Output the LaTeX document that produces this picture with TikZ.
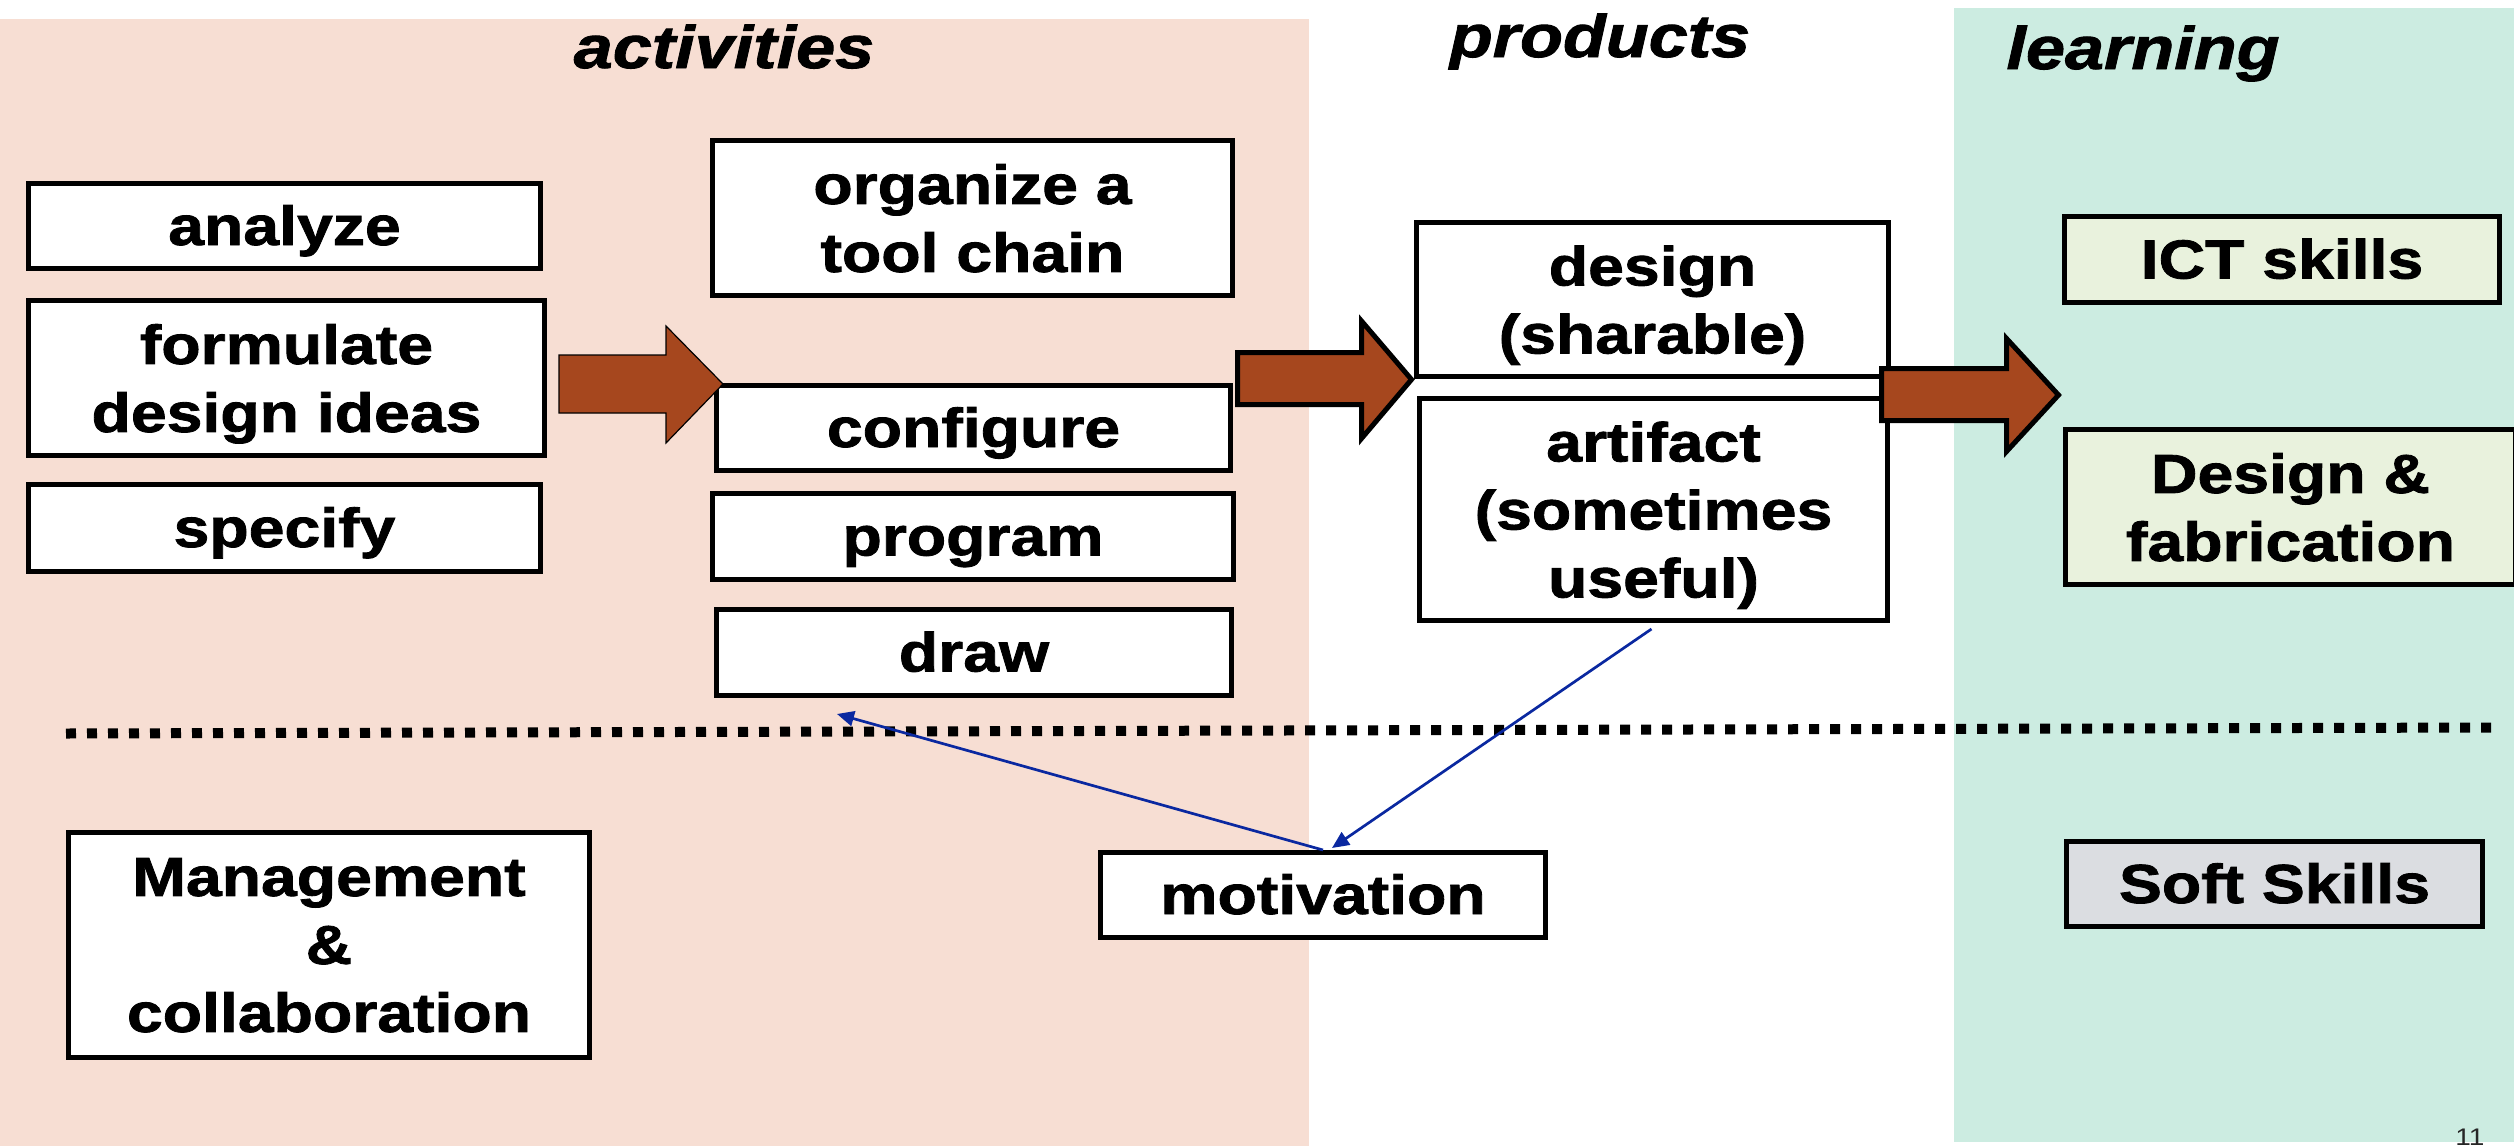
\documentclass[tikz,border=0pt]{standalone}
\usepackage{fontspec}
\setmainfont{Liberation Sans}
\newfontfamily\boxfont{Liberation Sans}[FakeStretch=1.17]
\newfontfamily\heavyfont{Liberation Sans}[FakeStretch=1.17,FakeBold=1.5]
\usetikzlibrary{calc,arrows.meta}

\definecolor{pinkbg}{RGB}{247,222,211}
\definecolor{greenbg}{RGB}{204,236,225}
\definecolor{ictfill}{RGB}{233,242,221}
\definecolor{softfill}{RGB}{219,221,225}
\definecolor{arrowbrown}{RGB}{166,71,30}
\definecolor{linkblue}{RGB}{10,40,160}

\tikzset{
  box/.style={draw=black, line width=5pt, fill=white, inner sep=0pt,
    align=center, text depth=0pt,
    font=\heavyfont\bfseries\fontsize{55}{68}\selectfont},
  oneline/.style={text height=38pt, text depth=0pt},
  coltitle/.style={anchor=base, inner sep=0pt,
    font=\heavyfont\bfseries\itshape\fontsize{60}{72}\selectfont},
  bigarrow/.style={fill=arrowbrown, draw=black, line width=5pt, line join=miter},
  thinarrow/.style={fill=arrowbrown, draw=black, line width=1.2pt, line join=miter},
  link/.style={draw=linkblue, line width=2.7pt, -{Triangle[length=17pt,width=15pt]}},
  separator/.style={line width=10pt, dash pattern=on 10pt off 11pt}
}

\begin{document}
\begin{tikzpicture}[x=1pt,y=-1pt]
\useasboundingbox (0,0) rectangle (2514,1146);
\clip (0,0) rectangle (2514,1146);

% column backgrounds
\fill[pinkbg] (0,19) rectangle (1309,1146);
\fill[greenbg] (1954,8) rectangle (2514,1142);

% column headings
\node[coltitle] (hact) at (724,68) {activities};
\node[coltitle] (hprod) at (1600,57) {products};
\node[coltitle] (hlearn) at (2143,69) {learning};

% activities
\node[box, oneline, minimum width=512, minimum height=85] (analyze) at (284.5,226) {analyze};
\node[box, minimum width=516, minimum height=155] (formulate) at (286.5,378) {formulate\\design ideas};
\node[box, oneline, minimum width=512, minimum height=87] (specify) at (284.5,528) {specify};

\node[box, minimum width=520, minimum height=155] (organize) at (972.5,218) {organize a\\tool chain};
\node[box, oneline, minimum width=514, minimum height=85] (configure) at (973.5,428) {configure};
\node[box, oneline, minimum width=521, minimum height=86] (program) at (973,536.5) {program};
\node[box, oneline, minimum width=515, minimum height=86] (drawbox) at (974,652.5) {draw};

% products
\node[box, minimum width=472, minimum height=154] (design) at (1652.5,299.5) {design\\(sharable)};
\node[box, minimum width=468, minimum height=222] (artifact) at (1653.5,509.5) {artifact\\(sometimes\\useful)};

% learning
\node[box, oneline, fill=ictfill, minimum width=435, minimum height=86] (ict) at (2282,259.5) {ICT skills};
\node[box, fill=ictfill, minimum width=450, minimum height=155] (fab) at (2290.5,507) {Design \&\\fabrication};
\node[box, oneline, fill=softfill, minimum width=416, minimum height=85] (soft) at (2274.5,884) {Soft Skills};

% lower row
\node[box, minimum width=521, minimum height=225] (manage) at (329,945) {Management\\\&\\collaboration};
\node[box, oneline, minimum width=445, minimum height=85] (motivation) at (1323,895) {motivation};

% block arrows between the columns
\filldraw[thinarrow] (559,355) -- (666,355) -- (666,326) -- (723,384)
  -- (666,443) -- (666,413) -- (559,413) -- cycle;
\filldraw[bigarrow] (1237.5,352.5) -- (1361.5,352.5) -- (1361.5,321) -- (1411.5,379.5)
  -- (1361.5,438.5) -- (1361.5,404.5) -- (1237.5,404.5) -- cycle;
\filldraw[bigarrow] (1881.5,368.5) -- (2006.5,368.5) -- (2006.5,338.5) -- (2058.5,395)
  -- (2006.5,451.5) -- (2006.5,420.5) -- (1881.5,420.5) -- cycle;

% dotted divider
\coordinate (sepL) at (66,733.5);
\coordinate (sepR) at (2498,727.5);
\draw[separator] (sepL) -- (sepR);

% motivation links
\coordinate (drawtip) at (837,714);
\draw[link] ($(artifact.south)+(-2,6)$) -- ($(motivation.north)+(9,-2)$);
\draw[link] (motivation.north) -- (drawtip);

% slide number
\node[anchor=base, inner sep=0pt, text=black!85,
  font=\boxfont\fontsize{24}{28}\selectfont] (pagenum) at (2470,1145) {11};
\end{tikzpicture}
\end{document}
